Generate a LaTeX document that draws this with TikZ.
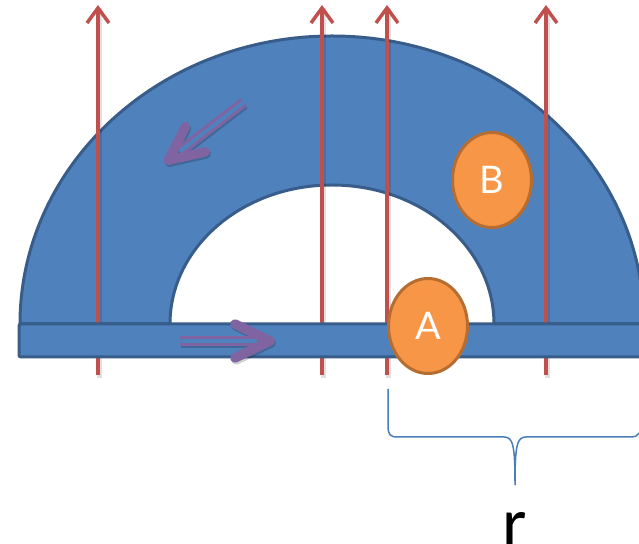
\documentclass[tikz,border=0pt]{standalone}
\usepackage{fontspec}
\newfontfamily\labelfont{Lato}
\newfontfamily\rfont{Carlito}
\usetikzlibrary{arrows.meta,shapes.geometric}
\definecolor{ringblue}{HTML}{4F81BD}
\definecolor{ringedge}{HTML}{385D8A}
\definecolor{fieldred}{HTML}{C0504D}
\definecolor{ballfill}{HTML}{F79646}
\definecolor{balledge}{HTML}{B66D31}
\definecolor{flowpurple}{HTML}{8064A2}
\definecolor{bracecol}{HTML}{4A7EBB}
\begin{document}
\begin{tikzpicture}[x=1pt,y=1pt,
  ringstyle/.style={fill=ringblue, draw=ringedge, line width=3pt},
  fieldline/.style={draw=fieldred, line width=3.5pt, -{Straight Barb[length=15pt,width=22pt,line width=3.5pt]}},
  fieldshadow/.style={draw=black, opacity=0.12, line width=5pt},
  shaft/.style={draw=flowpurple, double=ringblue, double distance=4pt, line width=3pt},
  chevron/.style={draw=flowpurple, line width=9.5pt, line cap=round, line join=round},
  purpleshadow/.style={draw=black, opacity=0.18, line cap=round, line join=round},
  ball/.style={ellipse, fill=ballfill, draw=balledge, line width=3pt, text=white, inner sep=0pt,
    minimum width=79pt, minimum height=95pt, font=\labelfont\fontsize{38}{38}\selectfont},
  bracestyle/.style={draw=bracecol, line width=1.5pt}
]
\useasboundingbox (0,0) rectangle (639,543);
\clip (0,0) rectangle (639,543);
\fill[white] (0,0) rectangle (639,543);

% half ring
\path[ringstyle] (20,219) arc[start angle=180, end angle=0, x radius=312, y radius=288]
  -- (494,219) arc[start angle=0, end angle=180, x radius=162, y radius=139] -- cycle;

% field lines
\foreach \i/\x in {1/98,2/322,3/387,4/546}{
  \coordinate (fb\i) at (\x,168);
  \coordinate (ft\i) at (\x,538);
}
\foreach \i in {1,2,3,4}{
  \draw[fieldshadow] ([shift={(1,-3)}]fb\i) -- ([shift={(1,-3)}]ft\i);
  \draw[fieldline] (fb\i) -- (ft\i);
}

% bar
\path[ringstyle, rounded corners=2pt] (19,186) rectangle (670,219);

% purple arrows: shadows
\draw[purpleshadow, line width=10pt, line cap=butt] (181,200) -- (259,200);
\draw[purpleshadow, line width=9.5pt] (236,217) -- (271,200) -- (236,183);
\draw[purpleshadow, line width=10pt, line cap=butt] (244.5,438.5) -- (180.5,389.4);
\draw[purpleshadow, line width=9.5pt] (206.2,389.1) -- (169.5,380.8) -- (186.4,414.3);

% purple arrows
\coordinate (p1s) at (180,202);
\coordinate (p1e) at (258,202);
\coordinate (p1a) at (235,219);
\coordinate (p1t) at (270,202);
\coordinate (p1b) at (235,185);
\draw[shaft] (p1s) -- (p1e);
\draw[chevron] (p1a) -- (p1t) -- (p1b);

\coordinate (p2s) at (243.5,440.5);
\coordinate (p2e) at (179.5,391.4);
\coordinate (p2a) at (205.2,391.1);
\coordinate (p2t) at (168.5,382.8);
\coordinate (p2b) at (185.4,416.3);
\draw[shaft] (p2s) -- (p2e);
\draw[chevron] (p2a) -- (p2t) -- (p2b);

% balls
\node[ball] (A) at (428,217) {A};
\node[ball] (B) at (492,363) {B};

% brace
\coordinate (brL) at (388,154);
\coordinate (brR) at (645,122);
\draw[bracestyle] (brL) -- (388,118) .. controls (388,108) and (390,106) .. (398,106)
  -- (504,106) .. controls (513,106) and (515,98) .. (515,58)
  .. controls (515,98) and (517,106) .. (526,106)
  -- (632,106) .. controls (638,106) and (640,110) .. (brR);

% label r
\node[font=\rfont\fontsize{70}{70}\selectfont, anchor=base, inner sep=0pt] (rlabel) at (515,-3) {r};
\end{tikzpicture}
\end{document}
